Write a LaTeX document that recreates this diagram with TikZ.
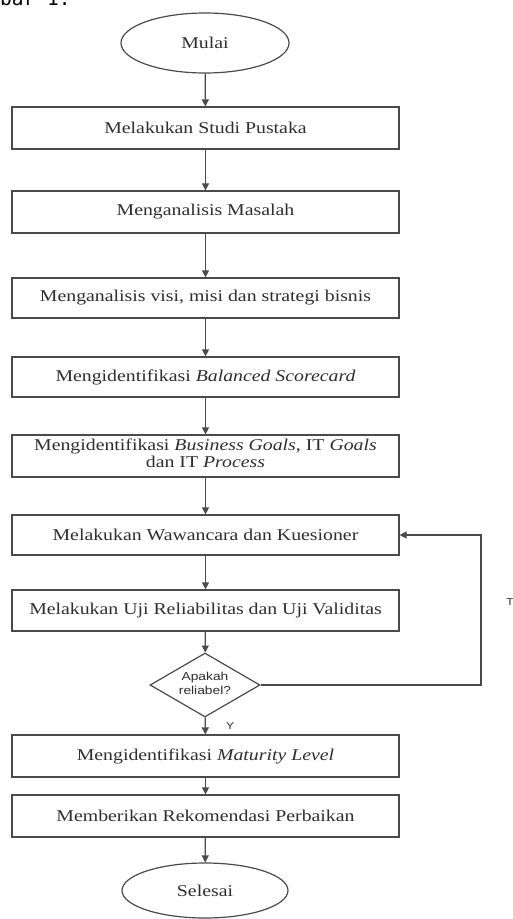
\documentclass[tikz,border=0pt]{standalone}
\usepackage{fontspec}
\usepackage{graphicx}
\setmainfont{Liberation Serif}
\newfontfamily\sansf{Liberation Sans}
\newfontfamily\monof{DejaVu Sans Mono}
\usetikzlibrary{arrows.meta,shapes.geometric}
\newcommand\sx[1]{\scalebox{1.2}[1]{#1}}
\definecolor{ink}{HTML}{2E2E2E}
\definecolor{edge}{HTML}{4A4A4A}
\tikzset{
  procbox/.style={draw=edge, line width=1.2pt, rectangle, minimum width=387pt, minimum height=42pt, inner sep=0pt, text=ink, font=\fontsize{16.5}{17}\selectfont},
  termin/.style={draw=edge, line width=1.2pt, ellipse, inner sep=0pt, text=ink, font=\fontsize{16.5}{17}\selectfont},
  decis/.style={draw=edge, line width=1.2pt, diamond, aspect=1.72, minimum width=110pt, minimum height=64pt, inner sep=0pt, text=ink, font=\sansf\fontsize{11.5}{13.5}\selectfont},
  flow/.style={draw=edge, line width=1.2pt, -{Triangle[width=7pt,length=7pt]}},
  lbl/.style={text=ink, font=\sansf\fontsize{10}{11}\selectfont, inner sep=0pt}
}
\begin{document}
\begin{tikzpicture}[x=1pt,y=-1pt]
\useasboundingbox (0,0) rectangle (513,919);
\node[anchor=base west, inner sep=0pt, font=\monof\fontsize{19.5}{20}\selectfont, text=black] (cap) at (0,5) {bar 1.};
\node[termin, minimum width=168pt, minimum height=60pt] (start) at (205,43) {\sx{Mulai}};
\node[procbox] (b1) at (205.5,128) {\sx{Melakukan Studi Pustaka}};
\node[procbox] (b2) at (205.5,212) {\sx{Menganalisis Masalah}};
\node[procbox, minimum height=40pt] (b3) at (205.5,298) {\sx{Menganalisis visi, misi dan strategi bisnis}};
\node[procbox, minimum height=40pt] (b4) at (205.5,377) {\sx{Mengidentifikasi \textit{Balanced Scorecard}}};
\node[procbox] (b5) at (205.5,456) {\sx{\begin{tabular}{@{}c@{}}Mengidentifikasi \textit{Business Goals}, IT \textit{Goals}\\[0pt] dan IT \textit{Process}\end{tabular}}};
\node[procbox, minimum height=40pt] (b6) at (205.5,535) {\sx{Melakukan Wawancara dan Kuesioner}};
\node[procbox, minimum height=41pt] (b7) at (205.5,610.5) {\sx{Melakukan Uji Reliabilitas dan Uji Validitas}};
\node[decis] (d) at (205,685) {\sx{\begin{tabular}{@{}c@{}}Apakah\\[0pt] reliabel?\end{tabular}}};
\node[procbox] (b8) at (205.5,756) {\sx{Mengidentifikasi \textit{Maturity Level}}};
\node[procbox] (b9) at (205.5,816) {\sx{Memberikan Rekomendasi Perbaikan}};
\node[termin, minimum width=166pt, minimum height=55pt] (end) at (205,890.5) {\sx{Selesai}};
\node[lbl] (ylbl) at (230,726) {\sx{Y}};
\node[lbl] (tlbl) at (510,602) {\sx{T}};
\coordinate (loop) at (481,685);
\draw[flow] (start) -- (b1);
\draw[flow] (b1) -- (b2);
\draw[flow] (b2) -- (b3);
\draw[flow] (b3) -- (b4);
\draw[flow] (b4) -- (b5);
\draw[flow] (b5) -- (b6);
\draw[flow] (b6) -- (b7);
\draw[flow] (b7) -- (d);
\draw[flow] (d) -- (b8);
\draw[flow] (b8) -- (b9);
\draw[flow] (b9) -- (end);
\draw[flow] (d.east) -- (loop) |- (b6.east);
\end{tikzpicture}
\end{document}
